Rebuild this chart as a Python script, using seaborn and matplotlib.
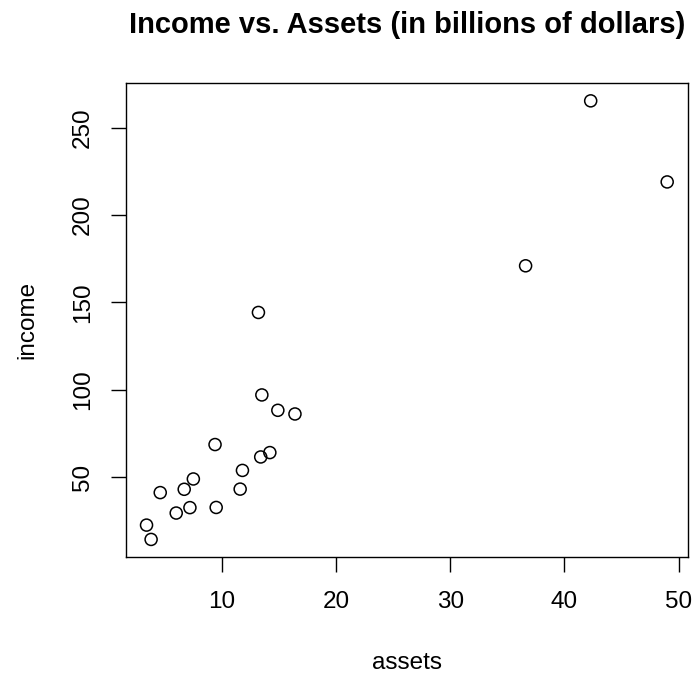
import matplotlib
matplotlib.use("Agg")
import matplotlib.pyplot as plt
import seaborn as sns
import pandas as pd

assets = [13.2, 13.5, 14.9, 16.4, 9.4, 13.4, 14.2, 11.8, 7.5, 6.7,
          4.6, 11.6, 9.5, 7.2, 6.0, 3.4, 3.8, 42.3, 49.0, 36.6]
income = [144.2, 97.0, 88.2, 86.1, 68.6, 61.5, 64.0, 53.8, 48.9, 43.0,
          41.1, 43.1, 32.6, 32.5, 29.4, 22.5, 14.3, 265.3, 218.9, 170.9]
x_ticks = [10, 20, 30, 40, 50]
y_ticks = [50, 100, 150, 200, 250]

df = pd.DataFrame({"assets": assets, "income": income})

sns.set_style("white")
plt.rcParams["font.family"] = ["Liberation Sans", "DejaVu Sans"]
plt.rcParams["text.color"] = "black"
plt.rcParams["axes.labelcolor"] = "black"
plt.rcParams["xtick.color"] = "black"
plt.rcParams["ytick.color"] = "black"

fig = plt.figure(figsize=(6.93, 6.73), dpi=100)
ax = fig.add_axes([0.1814, 0.1724, 0.8114, 0.7038])

sns.scatterplot(data=df, x="assets", y="income", ax=ax, marker="o",
                s=75, facecolor="none", edgecolor="black", linewidth=1.1)

xr = max(assets) - min(assets)
yr = max(income) - min(income)
ax.set_xlim(min(assets) - 0.04 * xr, max(assets) + 0.04 * xr)
ax.set_ylim(min(income) - 0.04 * yr, max(income) + 0.04 * yr)

fs = 17.5
ax.set_xticks(x_ticks)
ax.set_yticks(y_ticks)
ax.set_xticklabels([str(v) for v in x_ticks], fontsize=fs)
ax.set_yticklabels([str(v) for v in y_ticks], fontsize=fs, rotation=90, va="center")
ax.tick_params(axis="x", direction="out", length=11, width=1, color="black",
               pad=13.5, bottom=True)
ax.tick_params(axis="y", direction="out", length=11, width=1, color="black",
               pad=12, left=True)

for s in ax.spines.values():
    s.set_color("black")
    s.set_linewidth(1)

ax.set_xlabel("assets", fontsize=fs, labelpad=28)
ax.set_ylabel("income", fontsize=fs, labelpad=24)
ax.set_title("Income vs. Assets (in billions of dollars)", fontsize=21,
             fontweight="bold", pad=36)

fig.savefig("out.png", dpi=100, facecolor="white")
